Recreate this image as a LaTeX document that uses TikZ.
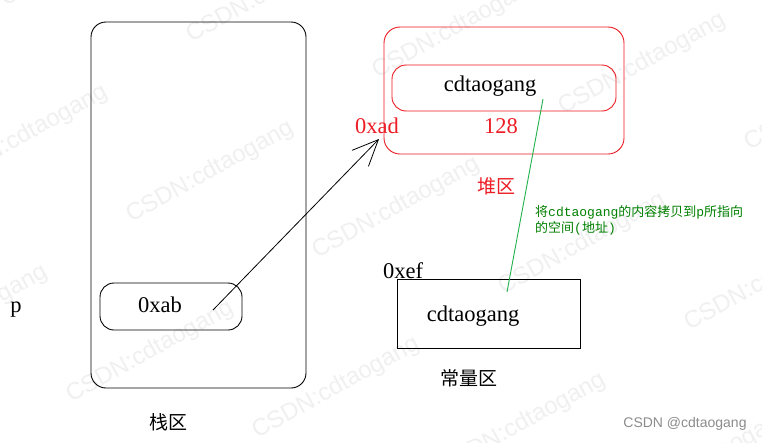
\documentclass[tikz,border=0pt]{standalone}
\usepackage{fontspec}
\setmainfont{Liberation Serif}
\newfontfamily\cjk{Noto Sans CJK SC}
\newfontfamily\monofnt{Liberation Mono}
\newfontfamily\wmfnt{Liberation Sans}
\usetikzlibrary{arrows.meta}
\definecolor{pred}{RGB}{237,28,36}
\definecolor{pgreen}{RGB}{34,177,76}
\definecolor{tgreen}{RGB}{0,128,0}
\definecolor{wmgray}{RGB}{240,240,240}
\tikzset{
  box/.style={draw, line width=0.9pt, inner sep=0pt},
  lat/.style={font=\fontsize{22.5}{26}\selectfont, inner sep=0pt, anchor=base},
  han/.style={font=\cjk\fontsize{19}{22}\selectfont, inner sep=0pt},
  note/.style={text=tgreen, inner sep=0pt, anchor=west, font=\fontsize{13}{15}\selectfont},
  wmark/.style={text=wmgray, font=\wmfnt\fontsize{24}{26}\selectfont, rotate=29, inner sep=0pt},
}
\begin{document}
\begin{tikzpicture}[x=1pt,y=-1pt]
\useasboundingbox (0,0) rectangle (762,442);
\fill[white] (0,0) rectangle (762,442);
% watermarks
\begin{scope}
\clip (0,0) rectangle (762,442);
\foreach \wx/\wy [count=\k] in {270/-8,210/172,150/352,396/208,456/28,336/388,582/244,642/64,522/424,768/280,828/100,708/460,24/136,-36/316,84/-44}{
  \node[wmark] (wm\k) at (\wx,\wy) {CSDN:cdtaogang};
}
\end{scope}
% stack area
\node[box, rounded corners=15pt, minimum width=215pt, minimum height=366pt] (stack) at (198.5,205) {};
\node[box, rounded corners=14pt, minimum width=142pt, minimum height=47pt] (ptr) at (171,306.5) {};
\node[lat] (ptrtxt) at (160,312) {0xab};
\node[lat] (ptrname) at (16,312) {p};
\node[han] (stacklbl) at (168,422) {栈区};
% heap area
\node[box, draw=pred, rounded corners=16pt, minimum width=240pt, minimum height=127pt] (heap) at (504,90.5) {};
\node[box, draw=pred, rounded corners=14pt, minimum width=224pt, minimum height=46pt] (heapin) at (504,88) {};
\node[lat] (heaptxt) at (490,91) {cdtaogang};
\node[lat, text=pred] (heapaddr) at (377,133) {0xad};
\node[lat, text=pred] (heapsize) at (501,133) {128};
\node[han, text=pred] (heaplbl) at (496,186) {堆区};
% constant area
\node[box, minimum width=183pt, minimum height=69pt] (const) at (488.5,313.5) {};
\node[lat] (consttxt) at (473,321) {cdtaogang};
\node[lat] (constaddr) at (403,278) {0xef};
\node[han] (constlbl) at (469,378) {常量区};
% note
\node[note] (note1) at (535,212) {{\cjk 将}{\monofnt cdtaogang}{\cjk 的内容拷贝到}{\monofnt p}{\cjk 所指向}};
\node[note] (note2) at (535,228) {{\cjk 的空间}{\monofnt (}{\cjk 地址}{\monofnt )}};
% connectors
\coordinate (arrs) at (213,310);
\coordinate (arre) at (379,139);
\draw[line width=0.8pt, -{Straight Barb[length=26pt,width=23pt,line width=0.8pt]}] (arrs) -- (arre);
\coordinate (gs) at (543,99);
\coordinate (ge) at (507,292);
\draw[pgreen, line width=0.9pt] (gs) -- (ge);
% corner credit
\node[text=black!45, font=\wmfnt\fontsize{14}{16}\selectfont, inner sep=0pt] (credit) at (685,424) {CSDN @cdtaogang};
\end{tikzpicture}
\end{document}
